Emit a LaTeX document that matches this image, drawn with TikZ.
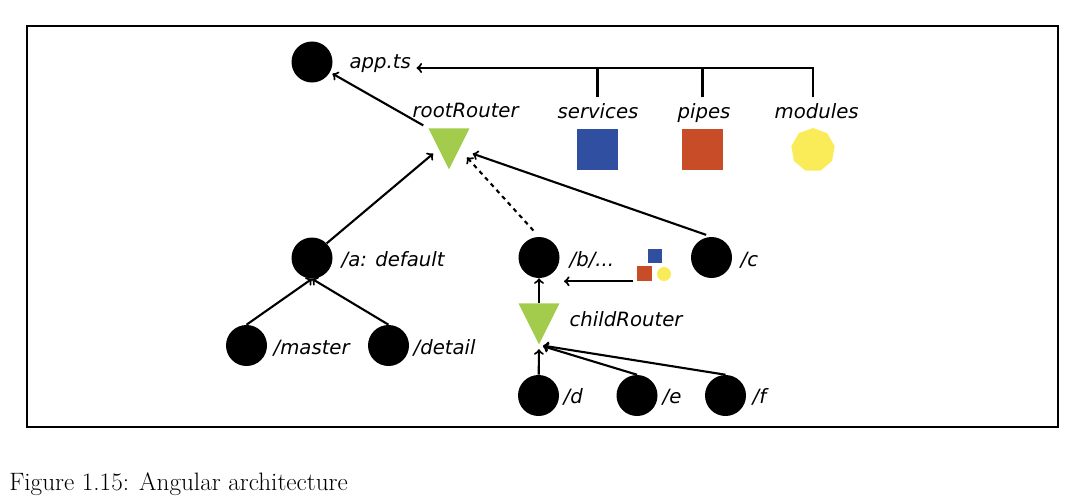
\documentclass[tikz,border=0pt]{standalone}
\usepackage{fontspec}
\newfontfamily\lblfont{DejaVu Sans}
\usetikzlibrary{shapes.geometric}
\definecolor{routergreen}{RGB}{163,204,77}
\definecolor{svcblue}{RGB}{49,79,160}
\definecolor{pipered}{RGB}{200,76,40}
\definecolor{modyellow}{RGB}{250,236,88}
\tikzset{
  page/.style={circle,fill=black,inner sep=0pt,minimum size=1.025cm},
  router/.style={isosceles triangle,isosceles triangle stretches,shape border rotate=270,fill=routergreen,inner sep=0pt,minimum width=1.02cm,minimum height=1.02cm,anchor=apex},
  lbl/.style={font=\lblfont\itshape\fontsize{14}{16}\selectfont,inner sep=0pt,outer sep=4pt,anchor=base west},
  link/.style={->,line width=1.5pt},
}

\begin{document}
\begin{tikzpicture}[x=0.025cm,y=-0.025cm]
      \useasboundingbox (0,0) rectangle (1075,501);
      \draw[line width=1.4pt] (27,26) rectangle (1058,427);
      \node (app) [page] at (312,62) {};
      \node (applbl) [lbl] at (344,68) {app.ts};
      \node (root) [router] at (449,170) {};
      \node (rootlbl) [lbl] at (407,117) {rootRouter};
      \node (services) [fill=svcblue,inner sep=0pt,minimum size=1.025cm] at (597.5,149.5) {};
      \node (srvlbl) [lbl] at (552,118) {services};
      \node (pipes) [fill=pipered,inner sep=0pt,minimum size=1.025cm] at (702.5,149.5) {};
      \node (pipelbl) [lbl] at (672,118) {pipes};
      \node (modules) [regular polygon,regular polygon sides=9,fill=modyellow,inner sep=0pt,minimum size=1.1cm] at (813,150) {};
      \node (modlbl) [lbl] at (769,118) {modules};
      \node (a) [page] at (312,258) {};
      \node (albl) [lbl] at (336,266) {/a: default};
      \node (master) [page] at (246.5,345.5) {};
      \node (masterlbl) [lbl] at (268,354) {/master};
      \node (detail) [page] at (388.5,345.5) {};
      \node (detaillbl) [lbl] at (408,354) {/detail};
      \node (b) [page] at (539,257.5) {};
      \node (blbl) [lbl] at (564,266) {/b/...};
      \node (c) [page] at (711.5,257.5) {};
      \node (clbl) [lbl] at (735,266) {/c};
      \node (blueicon) [fill=svcblue,inner sep=0pt,minimum size=0.35cm] at (655,256) {};
      \node (redicon) [fill=pipered,inner sep=0pt,minimum size=0.375cm] at (644.5,273.5) {};
      \node (yellowicon) [circle,fill=modyellow,inner sep=0pt,minimum size=0.35cm] at (664,274) {};
      \node (child) [router] at (539,345) {};
      \node (childlbl) [lbl] at (564,326) {childRouter};
      \node (d) [page] at (538.5,395.5) {};
      \node (dlbl) [lbl] at (558,403) {/d};
      \node (e) [page] at (637,395.5) {};
      \node (elbl) [lbl] at (657,403) {/e};
      \node (f) [page] at (725.5,395.5) {};
      \node (flbl) [lbl] at (747,403) {/f};
      \node (caption) [anchor=base west,inner sep=0pt,font=\fontsize{17.9}{21}\selectfont] at (9,490) {Figure 1.15: Angular architecture};
      \draw[link] (modules |- modlbl.north) |- (applbl.base east);
      \draw[line width=1.5pt] (services |- srvlbl.north) -- (services |- applbl.base east);
      \draw[line width=1.5pt] (pipes |- pipelbl.north) -- (pipes |- applbl.base east);
      \draw[link,shorten <=4pt,shorten >=2pt] (root.right corner) -- (app);
      \draw[link,shorten >=5pt] (a.north east) -- (root.right side);
      \draw[link,dashed,shorten <=6pt,shorten >=8pt] (b.north) -- (root.left side);
      \draw[link,shorten <=4pt,shorten >=10pt] (c.north) -- (root.left side);
      \draw[link] (master.north) -- (a.south);
      \draw[link] (detail.north) -- (a.south);
      \draw[link,shorten <=3pt,shorten >=3pt] (redicon.south west) -- (redicon.south west -| b.east);
      \draw[link] (child.lower side) -- (b.south);
      \draw[link,shorten >=3pt] (d) -- (child.apex);
      \draw[link,shorten >=3pt] (e.north) -- (child.apex);
      \draw[link,shorten >=3pt] (f.north) -- (child.apex);
\end{tikzpicture}
\end{document}
